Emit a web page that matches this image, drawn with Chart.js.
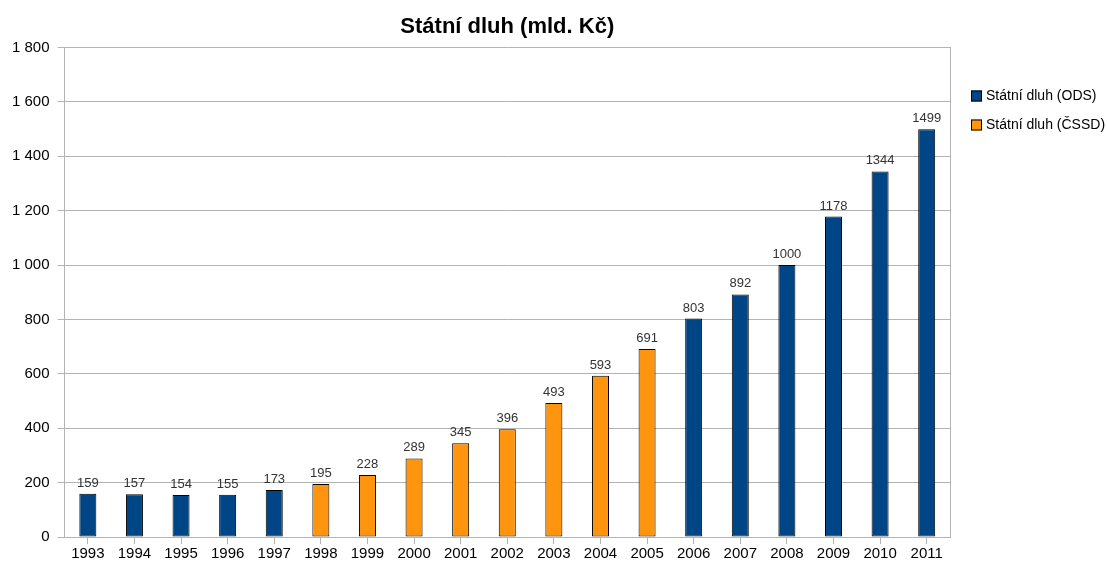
<!DOCTYPE html>
<html>
<head>
<meta charset="utf-8">
<script src="https://cdn.jsdelivr.net/npm/chart.js@4/dist/chart.umd.min.js"></script>
<style>
  html, body { margin: 0; padding: 0; background: #fff; }
  #wrap { width: 1107px; height: 565px; }
</style>
</head>
<body>
<div id="wrap"><canvas id="debtChart"></canvas></div>
<script>
// Data
const years = ['1993', '1994', '1995', '1996', '1997', '1998', '1999', '2000', '2001', '2002',
  '2003', '2004', '2005', '2006', '2007', '2008', '2009', '2010', '2011'];
const debtODS = [159, 157, 154, 155, 173, null, null, null, null, null,
  null, null, null, 803, 892, 1000, 1178, 1344, 1499];
const debtCSSD = [null, null, null, null, null, 195, 228, 289, 345, 396,
  493, 593, 691, null, null, null, null, null, null];
const yTicks = [0, 200, 400, 600, 800, 1000, 1200, 1400, 1600, 1800];

const FONT = 'Liberation Sans, Arial, sans-serif';

// Draw the value above each bar
const valueLabels = {
  id: 'valueLabels',
  afterDatasetsDraw(chart) {
    const ctx = chart.ctx;
    ctx.save();
    ctx.font = '13px ' + FONT;
    ctx.fillStyle = '#333333';
    ctx.textAlign = 'center';
    ctx.textBaseline = 'alphabetic';
    chart.data.datasets.forEach((ds, i) => {
      const meta = chart.getDatasetMeta(i);
      meta.data.forEach((bar, j) => {
        const v = ds.data[j];
        if (v === null || v === undefined) return;
        ctx.fillText(String(v), bar.x, bar.y - 7);
      });
    });
    ctx.restore();
  }
};

// Legend at the top right, beside the plot
const sideLegend = {
  id: 'sideLegend',
  afterDraw(chart) {
    const ctx = chart.ctx;
    const x = chart.chartArea.right + 21;
    ctx.save();
    ctx.font = '14px ' + FONT;
    ctx.textBaseline = 'middle';
    ctx.textAlign = 'left';
    chart.data.datasets.forEach((ds, i) => {
      const y = 96 + i * 29;
      ctx.fillStyle = ds.backgroundColor;
      ctx.fillRect(x, y - 5.5, 11, 11);
      ctx.strokeStyle = '#000';
      ctx.lineWidth = 1;
      ctx.strokeRect(x + 0.5, y - 5, 10, 10);
      ctx.fillStyle = '#000';
      ctx.fillText(ds.label, x + 15, y);
    });
    ctx.restore();
  }
};

new Chart(document.getElementById('debtChart'), {
  type: 'bar',
  data: {
    labels: years,
    datasets: [
      {
        label: 'Státní dluh (ODS)',
        data: debtODS,
        backgroundColor: '#004586',
        borderColor: '#000000',
        borderWidth: 1,
        borderSkipped: false
      },
      {
        label: 'Státní dluh (ČSSD)',
        data: debtCSSD,
        backgroundColor: '#ff950e',
        borderColor: '#000000',
        borderWidth: 1,
        borderSkipped: false
      }
    ]
  },
  options: {
    responsive: true,
    maintainAspectRatio: false,
    animation: false,
    layout: { padding: { left: 4, right: 149, top: 0, bottom: 1 } },
    datasets: {
      bar: { barPercentage: 0.365, categoryPercentage: 1 }
    },
    scales: {
      x: {
        stacked: true,
        grid: { display: true, offset: false, drawOnChartArea: false, drawTicks: true, tickLength: 7, color: '#b3b3b3' },
        border: { display: true, color: '#b3b3b3' },
        ticks: { color: '#000', font: { family: FONT, size: 15 }, padding: 1, maxRotation: 0 }
      },
      y: {
        stacked: true,
        min: 0,
        max: 1800,
        afterBuildTicks: (axis) => { axis.ticks = yTicks.map(v => ({ value: v })); },
        grid: { color: '#b3b3b3', tickLength: 7 },
        border: { display: true, color: '#b3b3b3' },
        ticks: {
          color: '#000',
          font: { family: FONT, size: 15 },
          padding: 8,
          callback: (v) => String(v).replace(/\B(?=(\d{3})+(?!\d))/g, ' ')
        }
      },
      y2: {
        position: 'right',
        min: 0,
        max: 1800,
        grid: { display: false },
        border: { display: true, color: '#b3b3b3' },
        ticks: { display: false }
      }
    },
    plugins: {
      title: {
        display: true,
        fullSize: false,
        text: 'Státní dluh (mld. Kč)',
        color: '#000',
        font: { family: FONT, size: 22, weight: 'bold' },
        padding: { top: 14, bottom: 7 }
      },
      legend: { display: false },
      tooltip: { enabled: false }
    }
  },
  plugins: [valueLabels, sideLegend]
});
</script>
</body>
</html>
